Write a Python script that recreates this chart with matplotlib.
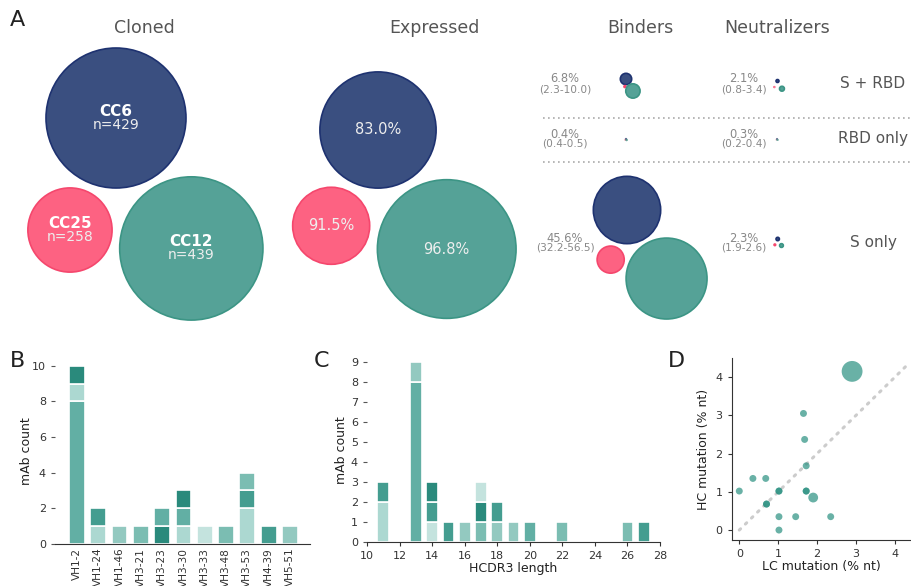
import numpy as np
import matplotlib
matplotlib.use("Agg")
import matplotlib.pyplot as plt
from matplotlib.patches import Circle

# ---- data ----
donors = ["CC6", "CC25", "CC12"]
n_cloned = [429, 258, 439]
frac_expressed = [0.830, 0.915, 0.968]

row_names = ["S + RBD", "RBD only", "S only"]
# per-donor fraction of cloned mAbs (CC6, CC25, CC12)
binders_frac = [[0.081, 0.023, 0.100],
                [0.004, 0.004, 0.005],
                [0.481, 0.322, 0.565]]
neutral_frac = [[0.021, 0.008, 0.034],
                [0.003, 0.002, 0.004],
                [0.024, 0.019, 0.026]]

vh_genes = ["VH1-2", "VH1-24", "VH1-46", "VH3-21", "VH3-23", "VH3-30",
            "VH3-33", "VH3-48", "VH3-53", "VH4-39", "VH5-51"]
vh_counts = [[8, 1, 1], [1, 1], [1], [1], [1, 1], [1, 1, 1], [1], [1], [2, 1, 1], [1], [1]]
vh_group = [[4, 1, 6], [1, 5], [2], [3], [6, 4], [1, 4, 6], [0], [3], [1, 5, 3], [5], [2]]

cdr3_len = [11, 13, 14, 15, 16, 17, 18, 19, 20, 22, 26, 27]
cdr3_counts = [[2, 1], [8, 1], [1, 1, 1], [1], [1], [1, 1, 1], [1, 1], [1], [1], [1], [1], [1]]
cdr3_group = [[1, 5], [4, 2], [0, 5, 6], [5], [2], [3, 6, 0], [2, 5], [2], [4], [3], [3], [5]]

lc_mut = [0.00, 0.35, 0.68, 0.70, 0.70, 1.02, 1.02, 1.02, 1.02, 1.45, 1.65, 1.68,
          1.72, 1.72, 1.72, 1.90, 2.35, 2.90]
hc_mut = [1.02, 1.35, 1.35, 0.68, 0.68, 1.02, 1.02, 0.35, 0.00, 0.35, 3.05, 2.37,
          1.68, 1.02, 1.02, 0.85, 0.35, 4.15]
n_mabs = [1, 1, 1, 1, 1, 1, 1, 1, 1, 1, 1, 1, 1, 1, 1, 2, 1, 9]

# ---- styles ----
face = ["#3a4f80", "#fd6282", "#55a297"]
edge = ["#1e3270", "#f5476d", "#3c9585"]
teal = ["#c4e3de", "#acd8d1", "#93c9c0", "#7bbdb2", "#62afa4", "#449d90", "#2a8a7c"]
grey_txt = "#555555"
px_per_mab = 70.0 / 429

fig = plt.figure(figsize=(9.12, 5.86), dpi=100)

# ---- panel A, drawn in pixel coordinates ----
axa = fig.add_axes([0, 0, 1, 1])
axa.set_xlim(0, 912)
axa.set_ylim(586, 0)
axa.axis("off")


def draw_group(ax, fracs, anchor, gap):
    r = [n * f * px_per_mab for n, f in zip(n_cloned, fracs)]
    p6 = np.array(anchor, dtype=float)
    d = r[0] + r[2] + gap
    th = np.deg2rad(60)
    p12 = p6 + d * np.array([np.cos(th), np.sin(th)])
    a = r[0] + r[1] + gap
    b = r[2] + r[1] + gap
    cos_a = np.clip((a**2 + d**2 - b**2) / (2 * a * d), -1, 1)
    th25 = th + np.arccos(cos_a)
    p25 = p6 + a * np.array([np.cos(th25), np.sin(th25)])
    centers = [p6, p25, p12]
    for c, rr, fc, ec in zip(centers, r, face, edge):
        ax.add_patch(Circle(c, rr, facecolor=fc, edgecolor=ec, lw=1.2))
    return centers


cen = draw_group(axa, [1, 1, 1], (116, 118), 9)
for c, name, n in zip(cen, donors, n_cloned):
    axa.text(c[0], c[1] - 7, name, color="white", fontsize=11, fontweight="bold",
             ha="center", va="center")
    axa.text(c[0], c[1] + 7, f"n={n}", color="#eeeeee", fontsize=10,
             ha="center", va="center")

cen = draw_group(axa, frac_expressed, (378, 130), 10)
for c, f in zip(cen, frac_expressed):
    axa.text(c[0], c[1], f"{f*100:.1f}%", color="#eeeeee", fontsize=10.5,
             ha="center", va="center")

row_y = [84, 139, 243]
bind_anchor = [(626, 79), (626, 139), (627, 210)]
bind_gap = [1, 0.5, 5]
neut_anchor = [(777.5, 81), (777, 139), (777.7, 239)]
neut_gap = [5, 0.5, 4]

for i, name in enumerate(row_names):
    draw_group(axa, binders_frac[i], bind_anchor[i], bind_gap[i])
    draw_group(axa, neutral_frac[i], neut_anchor[i], neut_gap[i])
    for fr, lx in ((binders_frac[i], 565), (neutral_frac[i], 744)):
        vals = np.array(fr) * 100
        axa.text(lx, row_y[i] - 5, f"{vals.mean():.1f}%", color="#888888",
                 fontsize=8.3, ha="center", va="center")
        axa.text(lx, row_y[i] + 5, f"({vals.min():.1f}-{vals.max():.1f})",
                 color="#888888", fontsize=7.6, ha="center", va="center")
    axa.text(873, row_y[i], name, color=grey_txt, fontsize=11, ha="center", va="center")

for y in (117.7, 162.3):
    axa.plot([543, 912], [y, y], color="#aaaaaa", lw=1.2, ls=(0, (1, 2)))

for x, t in ((144, "Cloned"), (434, "Expressed"), (640, "Binders"), (777, "Neutralizers")):
    axa.text(x, 28, t, color=grey_txt, fontsize=12.5, ha="center", va="center")

axa.text(10, 20, "A", fontsize=16, color="#222222", ha="left", va="center")
axa.text(10, 361, "B", fontsize=16, color="#222222", ha="left", va="center")
axa.text(314, 361, "C", fontsize=16, color="#222222", ha="left", va="center")
axa.text(668, 361, "D", fontsize=16, color="#222222", ha="left", va="center")


def style_axis(ax):
    for s in ("top", "right", "left"):
        ax.spines[s].set_visible(False)
    ax.spines["bottom"].set_color("#333333")
    ax.tick_params(labelsize=8, colors="#333333", length=3)
    ax.tick_params(axis="y", color="#555555")
    ax.patch.set_alpha(0)


def stacked(ax, xs, counts, groups, width):
    for x, cs, gs in zip(xs, counts, groups):
        bottom = 0
        for c, g in zip(cs, gs):
            ax.bar(x, c, bottom=bottom, width=width, color=teal[g],
                   edgecolor="white", linewidth=1.2)
            bottom += c


# ---- panel B ----
axb = fig.add_axes([55 / 912, (586 - 543.7) / 586, 255 / 912, 186 / 586])
stacked(axb, range(len(vh_genes)), vh_counts, vh_group, 0.74)
axb.set_xlim(-1.03, 10.94)
axb.set_ylim(0, 10.45)
axb.set_yticks([0, 2, 4, 6, 8, 10])
axb.set_xticks(range(len(vh_genes)))
style_axis(axb)
axb.set_xticklabels(vh_genes, rotation=90, fontsize=7.6)
axb.tick_params(axis="x", length=0, pad=3)
axb.set_ylabel("mAb count", fontsize=9, color="#222222", labelpad=-1)

# ---- panel C ----
axc = fig.add_axes([367 / 912, (586 - 541.7) / 586, 293 / 912, 184 / 586])
stacked(axc, cdr3_len, cdr3_counts, cdr3_group, 0.72)
axc.set_xlim(10, 28)
axc.set_ylim(0, 9.2)
axc.set_yticks(range(10))
axc.set_xticks(range(10, 29, 2))
axc.set_xlabel("HCDR3 length", fontsize=9, color="#222222", labelpad=1)
axc.set_ylabel("mAb count", fontsize=9, color="#222222", labelpad=2)
style_axis(axc)

# ---- panel D ----
axd = fig.add_axes([731.7 / 912, (586 - 540) / 586, 180.3 / 912, 182 / 586])
axd.plot([0, 4.3], [0, 4.3], color="#cccccc", lw=2.2, ls=(0, (0.6, 2.2)),
         dash_capstyle="round", zorder=1)
axd.scatter(lc_mut, hc_mut, s=np.array(n_mabs) * 25, color="#2a9080", alpha=0.7,
            edgecolors="none", zorder=2)
axd.set_xlim(-0.195, 4.44)
axd.set_ylim(-0.26, 4.5)
axd.set_xticks(range(5))
axd.set_yticks(range(5))
axd.set_xlabel("LC mutation (% nt)", fontsize=9, color="#222222", labelpad=1)
axd.set_ylabel("HC mutation (% nt)", fontsize=9, color="#222222")
for s in ("top", "right"):
    axd.spines[s].set_visible(False)
for s in ("bottom", "left"):
    axd.spines[s].set_color("#333333")
axd.tick_params(labelsize=8, colors="#333333", length=3)
axd.patch.set_alpha(0)

fig.savefig("out.png", dpi=100)
